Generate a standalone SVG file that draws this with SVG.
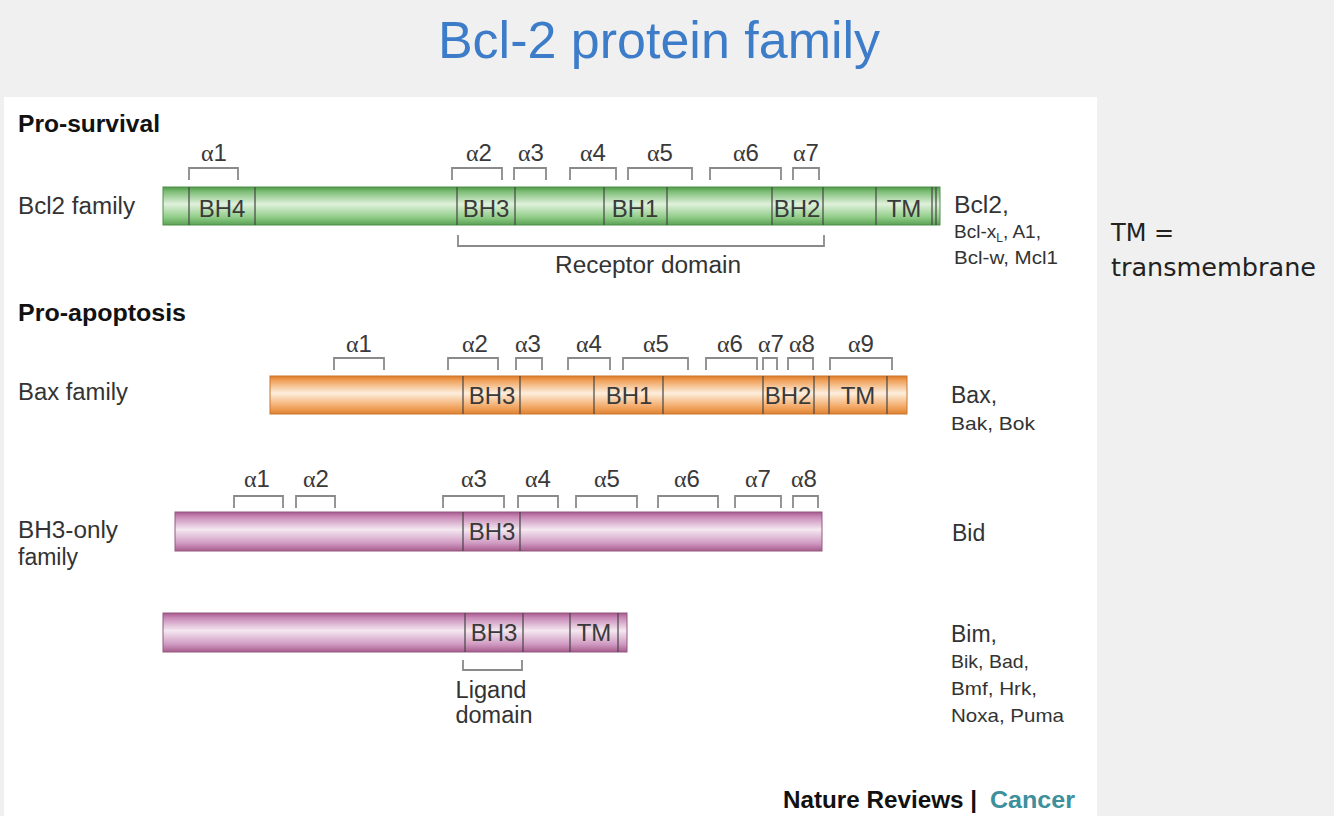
<svg xmlns="http://www.w3.org/2000/svg" width="1334" height="816" viewBox="0 0 1334 816">
<defs>
<linearGradient id="gGreen" x1="0" y1="0" x2="0" y2="1">
<stop offset="0" stop-color="#4f9a4a"/><stop offset="0.12" stop-color="#7dbd75"/><stop offset="0.45" stop-color="#e0f1dc"/><stop offset="0.8" stop-color="#8fcc87"/><stop offset="1" stop-color="#5aa154"/>
</linearGradient>
<linearGradient id="gOrange" x1="0" y1="0" x2="0" y2="1">
<stop offset="0" stop-color="#dc7a28"/><stop offset="0.12" stop-color="#f0a25a"/><stop offset="0.45" stop-color="#fdeedd"/><stop offset="0.8" stop-color="#f3aa68"/><stop offset="1" stop-color="#df8230"/>
</linearGradient>
<linearGradient id="gPink" x1="0" y1="0" x2="0" y2="1">
<stop offset="0" stop-color="#a6588e"/><stop offset="0.12" stop-color="#c889b6"/><stop offset="0.45" stop-color="#f4e8f1"/><stop offset="0.8" stop-color="#d09ac2"/><stop offset="1" stop-color="#a75d8d"/>
</linearGradient>
<style>
text{font-family:"Liberation Sans",Arial,sans-serif;fill:#333}
.head{font-size:23px;font-weight:bold;fill:#111}
.lab{font-size:23px}
.sm{font-size:19px}
.bh{font-size:24px;text-anchor:middle;fill:#3a3a3a}
.al{font-size:24px;text-anchor:middle;fill:#3a3a3a}
.gr{font-family:"Liberation Serif","Times New Roman",serif}
.div{stroke:#444;stroke-width:1.4;fill:none;opacity:0.85}
.br{stroke:#8a8a8a;stroke-width:1.8;fill:none}
.barG{fill:url(#gGreen);stroke:#4d8f48;stroke-width:1}
.barO{fill:url(#gOrange);stroke:#c9762e;stroke-width:1}
.barP{fill:url(#gPink);stroke:#94597f;stroke-width:1}
</style>
</defs>
<rect x="0" y="0" width="1334" height="816" fill="#f0f0f0"/>
<rect id="panel" x="4" y="97" width="1093" height="719" fill="#ffffff"/>
<text id="title" x="659" y="58" text-anchor="middle" style="font-size:52px;fill:#3d7cc9">Bcl-2 protein family</text>

<g id="row-bcl2">
<text class="head" x="18" y="132" textLength="142" lengthAdjust="spacingAndGlyphs">Pro-survival</text>
<text class="lab" x="18" y="214" textLength="117" lengthAdjust="spacingAndGlyphs">Bcl2 family</text>
<rect class="barG" x="163" y="187" width="777" height="38"/>
<path class="div" d="M189 187V225M255 187V225M457 187V225M515 187V225M604 187V225M667 187V225M772 187V225M823 187V225M876 187V225M932 187V225M936 187V225"/>
<text class="bh" x="222" y="217">BH4</text>
<text class="bh" x="486" y="217">BH3</text>
<text class="bh" x="635" y="217">BH1</text>
<text class="bh" x="797" y="217">BH2</text>
<text class="bh" x="904" y="217">TM</text>
<text class="al" x="214" y="161"><tspan class="gr">α</tspan>1</text>
<text class="al" x="479" y="161"><tspan class="gr">α</tspan>2</text>
<text class="al" x="531" y="161"><tspan class="gr">α</tspan>3</text>
<text class="al" x="593" y="161"><tspan class="gr">α</tspan>4</text>
<text class="al" x="660" y="161"><tspan class="gr">α</tspan>5</text>
<text class="al" x="746" y="161"><tspan class="gr">α</tspan>6</text>
<text class="al" x="806" y="161"><tspan class="gr">α</tspan>7</text>
<text class="lab" x="648" y="273" text-anchor="middle" textLength="186" lengthAdjust="spacingAndGlyphs">Receptor domain</text>
<text class="lab" x="954" y="213" textLength="55" lengthAdjust="spacingAndGlyphs">Bcl2,</text>
<text class="sm" x="954" y="238">Bcl-x<tspan style="font-size:12px" dy="4">L</tspan><tspan dy="-4">, A1,</tspan></text>
<text class="sm" x="954" y="264" textLength="104" lengthAdjust="spacingAndGlyphs">Bcl-w, Mcl1</text>
</g>

<g id="row-bax">
<text class="head" x="18" y="321" textLength="168" lengthAdjust="spacingAndGlyphs">Pro-apoptosis</text>
<text class="lab" x="18" y="400" textLength="110" lengthAdjust="spacingAndGlyphs">Bax family</text>
<rect class="barO" x="270" y="376" width="637" height="38"/>
<path class="div" d="M463 376V414M520 376V414M594 376V414M663 376V414M763 376V414M814 376V414M829 376V414M887 376V414"/>
<text class="bh" x="492" y="404">BH3</text>
<text class="bh" x="629" y="404">BH1</text>
<text class="bh" x="788" y="404">BH2</text>
<text class="bh" x="858" y="404">TM</text>
<text class="al" x="359" y="352"><tspan class="gr">α</tspan>1</text>
<text class="al" x="475" y="352"><tspan class="gr">α</tspan>2</text>
<text class="al" x="528" y="352"><tspan class="gr">α</tspan>3</text>
<text class="al" x="589" y="352"><tspan class="gr">α</tspan>4</text>
<text class="al" x="656" y="352"><tspan class="gr">α</tspan>5</text>
<text class="al" x="730" y="352"><tspan class="gr">α</tspan>6</text>
<text class="al" x="771" y="352" textLength="26" lengthAdjust="spacingAndGlyphs"><tspan class="gr">α</tspan>7</text>
<text class="al" x="802" y="352" textLength="26" lengthAdjust="spacingAndGlyphs"><tspan class="gr">α</tspan>8</text>
<text class="al" x="861" y="352"><tspan class="gr">α</tspan>9</text>
<text class="lab" x="951" y="403">Bax,</text>
<text class="sm" x="951" y="430" textLength="84" lengthAdjust="spacingAndGlyphs">Bak, Bok</text>
</g>

<g id="row-bid">
<text class="lab" x="18" y="538" textLength="100" lengthAdjust="spacingAndGlyphs">BH3-only</text>
<text class="lab" x="18" y="565">family</text>
<rect class="barP" x="175" y="512" width="647" height="39"/>
<path class="div" d="M463 512V551M520 512V551"/>
<text class="bh" x="492" y="540">BH3</text>
<text class="al" x="257" y="487"><tspan class="gr">α</tspan>1</text>
<text class="al" x="316" y="487"><tspan class="gr">α</tspan>2</text>
<text class="al" x="474" y="487"><tspan class="gr">α</tspan>3</text>
<text class="al" x="538" y="487"><tspan class="gr">α</tspan>4</text>
<text class="al" x="607" y="487"><tspan class="gr">α</tspan>5</text>
<text class="al" x="687" y="487"><tspan class="gr">α</tspan>6</text>
<text class="al" x="758" y="487"><tspan class="gr">α</tspan>7</text>
<text class="al" x="804" y="487"><tspan class="gr">α</tspan>8</text>
<text class="lab" x="952" y="541">Bid</text>
</g>

<g id="row-bim">
<rect class="barP" x="163" y="613" width="464" height="39"/>
<path class="div" d="M465 613V652M523 613V652M570 613V652M618 613V652"/>
<text class="bh" x="494" y="641">BH3</text>
<text class="bh" x="594" y="641">TM</text>
<text class="lab" x="491" y="698" text-anchor="middle" textLength="71" lengthAdjust="spacingAndGlyphs">Ligand</text>
<text class="lab" x="494" y="723" text-anchor="middle" textLength="77" lengthAdjust="spacingAndGlyphs">domain</text>
<text class="lab" x="951" y="642">Bim,</text>
<text class="sm" x="951" y="668" textLength="78" lengthAdjust="spacingAndGlyphs">Bik, Bad,</text>
<text class="sm" x="951" y="695" textLength="86" lengthAdjust="spacingAndGlyphs">Bmf, Hrk,</text>
<text class="sm" x="951" y="722" textLength="113" lengthAdjust="spacingAndGlyphs">Noxa, Puma</text>
</g>

<g id="connectors">
<path class="br" d="M189 180V168H238V180M452 180V168H502V180M514 180V168H546V180M570 180V168H616V180M628 180V168H692V180M710 180V168H781V180M793 180V168H819V180"/>
<path class="br" d="M458 235V246H824V235"/>
<path class="br" d="M334 370V358H384V370M448 370V358H498V370M516 370V358H542V370M568 370V358H610V370M623 370V358H688V370M706 370V358H757V370M763 370V358H777V370M788 370V358H813V370M830 370V358H892V370"/>
<path class="br" d="M234 508V496H283V508M296 508V496H335V508M443 508V496H504V508M518 508V496H558V508M576 508V496H637V508M658 508V496H718V508M735 508V496H781V508M793 508V496H818V508"/>
<path class="br" d="M463 660V670H522V660"/>
</g>

<g id="legend">
<text x="1111" y="241" style="font-family:'DejaVu Sans',Verdana,sans-serif;font-size:24px;fill:#222">TM =</text>
<text x="1111" y="276" textLength="205" lengthAdjust="spacingAndGlyphs" style="font-family:'DejaVu Sans',Verdana,sans-serif;font-size:24px;fill:#222">transmembrane</text>
</g>

<g id="credit">
<text x="783" y="808" textLength="194" lengthAdjust="spacingAndGlyphs" style="font-size:23px;font-weight:bold;fill:#111">Nature Reviews |</text>
<text x="990" y="808" textLength="85" lengthAdjust="spacingAndGlyphs" style="font-size:23px;font-weight:bold;fill:#3d8f9c">Cancer</text>
</g>
</svg>
